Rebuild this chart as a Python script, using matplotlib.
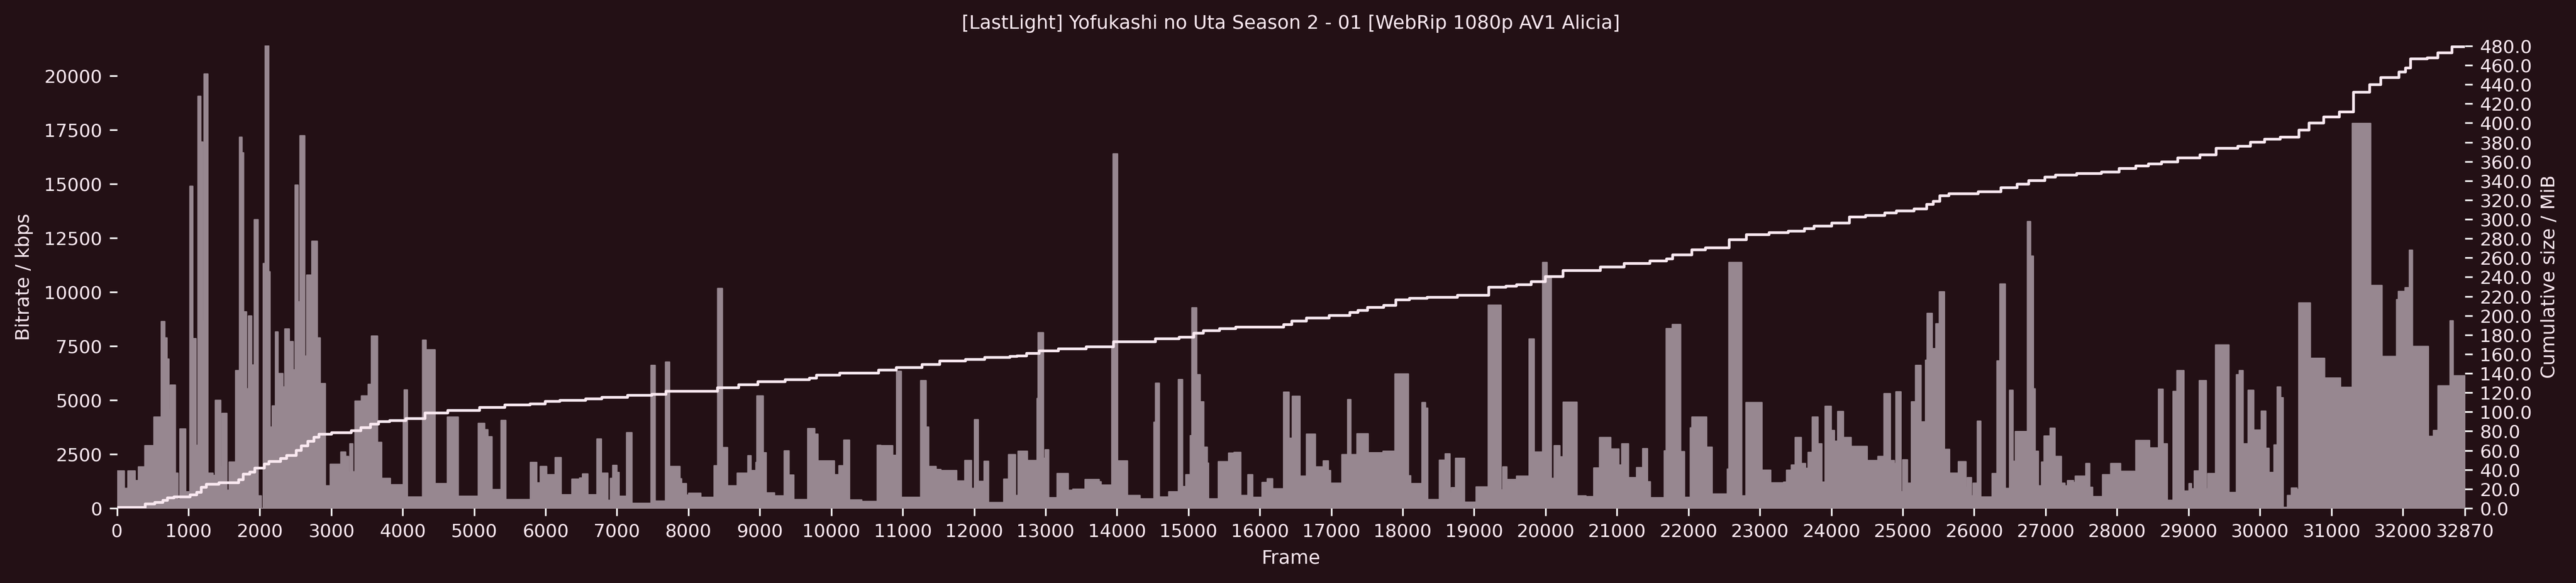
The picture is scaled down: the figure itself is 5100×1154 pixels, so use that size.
"""Per-segment bitrate and cumulative size plot for one encode."""

import matplotlib

matplotlib.use("Agg")
import matplotlib.pyplot as plt

TITLE = "[LastLight] Yofukashi no Uta Season 2 - 01 [WebRip 1080p AV1 Alicia]"
BG = "#231015"
FG = "#f9e8f0"
BAR = "#978790"
LAST_FRAME = 32870

# segment start frame / bitrate in kbps
seg_frames = [
    0, 100, 150, 252, 297, 387, 514, 617, 667, 698, 725, 743, 815, 851, 878, 959, 1018, 1059, 1104, 1131,
    1171, 1198, 1216, 1270, 1342, 1374, 1450, 1468, 1536, 1568, 1658, 1712, 1748, 1770, 1811, 1838, 1883, 1919, 1973, 2018,
    2045, 2072, 2122, 2140, 2171, 2216, 2252, 2266, 2320, 2347, 2410, 2464, 2491, 2532, 2559, 2626, 2653, 2725, 2802, 2843,
    2915, 2982, 3131, 3199, 3239, 3257, 3298, 3329, 3419, 3514, 3559, 3645, 3703, 3825, 4005, 4018, 4063, 4275, 4325, 4451,
    4622, 4775, 5055, 5145, 5190, 5248, 5374, 5441, 5784, 5874, 5923, 6013, 6131, 6216, 6365, 6473, 6514, 6590, 6716, 6779,
    6869, 6905, 6937, 6996, 7027, 7131, 7207, 7473, 7532, 7676, 7734, 7879, 7902, 7969, 8000, 8171, 8356, 8406, 8473, 8545,
    8680, 8829, 8874, 8942, 8955, 9045, 9086, 9203, 9338, 9406, 9473, 9667, 9766, 9811, 10041, 10104, 10172, 10253, 10424, 10640,
    10690, 10857, 10870, 10911, 10978, 11248, 11325, 11361, 11465, 11532, 11753, 11866, 11960, 12001, 12055, 12068, 12136, 12199, 12411, 12478,
    12576, 12612, 12743, 12878, 12892, 12968, 12991, 13041, 13158, 13315, 13378, 13550, 13748, 13775, 13924, 13942, 14005, 14144, 14320, 14514,
    14536, 14590, 14721, 14856, 14915, 14960, 15023, 15045, 15113, 15162, 15212, 15261, 15279, 15415, 15559, 15627, 15635, 15730, 15829, 15897,
    16027, 16100, 16176, 16329, 16406, 16451, 16559, 16649, 16775, 16870, 16884, 16956, 16987, 17145, 17226, 17271, 17356, 17514, 17721, 17888,
    18077, 18109, 18266, 18316, 18347, 18510, 18591, 18659, 18677, 18736, 18862, 19024, 19194, 19374, 19397, 19455, 19590, 19766, 19838, 19955,
    20018, 20077, 20117, 20198, 20243, 20437, 20563, 20671, 20752, 20910, 21023, 21063, 21158, 21270, 21342, 21356, 21424, 21464, 21658, 21685,
    21770, 21888, 21942, 22023, 22045, 22252, 22329, 22541, 22563, 22743, 22802, 23027, 23149, 23329, 23370, 23437, 23491, 23577, 23636, 23672,
    23730, 23811, 23865, 23910, 23996, 24041, 24086, 24167, 24275, 24500, 24649, 24734, 24824, 24879, 24901, 24973, 24996, 25063, 25118, 25176,
    25253, 25266, 25316, 25338, 25410, 25460, 25509, 25581, 25653, 25775, 25883, 25901, 25959, 25982, 26041, 26090, 26248, 26316, 26357, 26433,
    26492, 26541, 26573, 26742, 26787, 26826, 26851, 26896, 26940, 26975, 27060, 27129, 27218, 27268, 27303, 27387, 27412, 27551, 27560, 27615,
    27655, 27794, 27908, 28047, 28245, 28260, 28453, 28577, 28642, 28701, 28781, 28835, 28934, 29004, 29039, 29078, 29148, 29247, 29267, 29376,
    29564, 29668, 29708, 29762, 29832, 29911, 30016, 30080, 30125, 30194, 30239, 30288, 30323, 30382, 30437, 30516, 30541, 30704, 30903, 31126,
    31290, 31548, 31707, 31910, 31935, 32029, 32089, 32133, 32356, 32426, 32490, 32659, 32703,
]
seg_kbps = [
    1737, 930, 1737, 1290, 1926, 2907, 4230, 8650, 7895, 6914, 4558, 5710, 1634, 413, 3680, 774, 14912, 7860, 2924, 19075,
    16960, 8670, 20107, 1634, 1530, 5005, 1926, 4403, 843, 2150, 6381, 17180, 16460, 9100, 5540, 8910, 6640, 13364, 585, 0,
    11335, 21414, 10956, 3767, 4747, 8170, 1410, 6244, 5624, 8308, 7723, 6416, 14964, 9563, 17250, 7052, 10800, 12367, 7895, 5780,
    1050, 2047, 2614, 2408, 1670, 2993, 1700, 4970, 5210, 5745, 7980, 3060, 1393, 1100, 4025, 5487, 533, 7790, 7345, 1152,
    4230, 568, 3940, 3646, 3320, 877, 4076, 413, 2133, 1187, 1944, 1565, 2356, 636, 1359, 1410, 1600, 636, 3216, 1634,
    378, 1393, 1995, 1668, 568, 3509, 240, 6622, 344, 6777, 1944, 1376, 1152, 620, 705, 516, 1978, 10182, 2820, 1050,
    1634, 2442, 1754, 2133, 5210, 2580, 722, 585, 2666, 1548, 413, 3698, 3440, 2202, 1565, 1978, 3165, 396, 327, 2924,
    2907, 1926, 2460, 6347, 516, 5917, 3767, 1944, 1806, 1754, 1273, 2220, 929, 4110, 1135, 1256, 2184, 275, 1359, 2494,
    602, 2649, 2220, 5091, 8136, 2322, 2718, 499, 1617, 843, 894, 1342, 1238, 1084, 7396, 16409, 2202, 602, 447, 3990,
    5796, 533, 774, 5968, 1015, 1565, 3371, 9288, 6192, 4936, 2838, 2098, 447, 2167, 2563, 722, 2597, 602, 1565, 516,
    1204, 1376, 912, 5384, 3250, 5194, 1496, 3440, 1926, 1600, 2202, 1754, 1170, 2494, 5040, 2494, 3457, 2580, 2649, 6226,
    1514, 1152, 4902, 4644, 413, 2236, 2528, 722, 963, 2322, 292, 998, 9408, 860, 1926, 1342, 1496, 7843, 2614, 11386,
    10750, 1393, 2907, 2391, 4919, 585, 550, 1875, 3285, 2752, 2012, 2993, 1428, 1892, 1410, 2769, 1238, 499, 2666, 8325,
    8514, 2632, 516, 3732, 4231, 2838, 671, 1823, 11386, 585, 4902, 1772, 1187, 1221, 1772, 2012, 3285, 2081, 1858, 2597,
    4231, 2993, 1221, 4730, 3612, 3113, 4489, 3285, 2872, 2219, 2408, 5315, 2219, 2081, 5400, 774, 2253, 1170, 4936, 6622,
    2270, 4008, 6863, 9030, 7396, 8548, 10028, 2735, 1634, 2167, 980, 1428, 585, 1170, 4042, 533, 1617, 6828, 10389, 929,
    5470, 2184, 3560, 13278, 11679, 5538, 2649, 1049, 2150, 3354, 3715, 2408, 1170, 1049, 1290, 1204, 1496, 843, 2081, 980,
    550, 1565, 2081, 1720, 464, 3148, 2804, 5521, 2993, 378, 5418, 6381, 808, 1152, 912, 1737, 5917, 912, 1617, 7568,
    740, 6192, 6381, 2993, 5470, 3629, 4506, 2786, 1668, 2941, 5624, 5126, 52, 602, 946, 877, 9512, 6949, 6037, 5607,
    17820, 10320, 7035, 9666, 10045, 10217, 11954, 7499, 3337, 3612, 5676, 8686, 6140,
]

# cumulative size line, frame / MiB
size_frames = [
    0, 392, 527, 640, 707, 797, 1022, 1113, 1180, 1248, 1428, 1698, 1766, 1856, 1924, 2059, 2126, 2284, 2374, 2509,
    2577, 2667, 2757, 2825, 3005, 3275, 3410, 3545, 3658, 3816, 4041, 4311, 4627, 5077, 5428, 5784, 5995, 6198, 6559, 6784,
    7144, 7482, 7685, 8406, 8698, 8968, 9352, 9690, 9793, 10117, 10658, 10906, 11266, 11514, 11874, 12145, 12496, 12595, 12730, 12910,
    13180, 13563, 13946, 14532, 14870, 15072, 15207, 15433, 15658, 16334, 16447, 16649, 16965, 17257, 17370, 17505, 17730, 17897, 18090, 18338,
    18766, 19203, 19442, 19590, 19793, 19995, 20243, 20761, 21099, 21460, 21694, 21775, 22045, 22234, 22567, 22811, 23126, 23397, 23621, 23757,
    24005, 24253, 24478, 24748, 24906, 25154, 25334, 25424, 25514, 25640, 26055, 26370, 26595, 26762, 26985, 27134, 27431, 27779, 28027, 28260,
    28433, 28622, 28845, 29158, 29381, 29688, 29862, 30060, 30283, 30546, 30685, 30888, 31112, 31305, 31533, 31687, 31945, 32034, 32108, 32341,
    32490, 32689, 32870,
]
size_mib = [
    1, 4.6, 6.5, 8.5, 11, 12.3, 14.3, 17, 22, 25, 26.6, 30, 35.5, 38, 42, 46, 49, 52, 55, 60.5,
    65, 70, 74, 77, 78.7, 80.6, 83.7, 87.6, 90, 91.4, 93.4, 99, 102, 105, 107.6, 108.4, 111, 112, 114, 115.4,
    117.3, 118.8, 121.5, 125.4, 128.5, 131.6, 133.9, 135.4, 138.5, 140.8, 143.9, 146.6, 149.7, 153.2, 154.7, 156.6, 157.8, 158.6, 160.9, 163.6,
    165.5, 167.8, 173.2, 176.3, 177.9, 182, 184.8, 186.7, 188.3, 191, 194.8, 197.5, 200.2, 203.3, 205.6, 208.7, 211, 216.4, 218, 219.1,
    221.5, 229.6, 231, 232.6, 235.3, 240.7, 246.9, 250.8, 254.3, 257, 259.3, 263.5, 268.5, 270.5, 279.3, 284.3, 286.6, 288.2, 290.5, 293.2,
    296.3, 302.5, 304, 306.7, 309, 311.3, 315.6, 319, 324.5, 326.8, 329, 333.3, 336.8, 340.7, 344, 346, 348, 349.5, 353, 355.7,
    358, 359.6, 363.8, 367, 374.2, 376, 380.4, 383.5, 385.8, 393, 400, 406.6, 412, 432.5, 440.2, 447.5, 453.3, 457.2, 466.8, 468,
    473.4, 479.6, 480,
]

x_ticks = list(range(0, 33000, 1000)) + [LAST_FRAME]
size_ticks = list(range(0, 500, 20))


def main():
    plt.rcParams.update({"font.family": "DejaVu Sans", "font.size": 8.7})
    fig, ax = plt.subplots(figsize=(17, 1154 / 300), dpi=300, facecolor=BG)
    fig.subplots_adjust(left=231.5 / 5100, right=4880 / 5100, bottom=1 - 1006 / 1154, top=1 - 90 / 1154)
    ax.set_facecolor(BG)

    ax.fill_between(seg_frames + [LAST_FRAME], seg_kbps + [seg_kbps[-1]], step="post",
                    color=BAR, linewidth=0.6, joinstyle="round")
    ax.set_xlim(0, LAST_FRAME)
    ax.set_ylim(0, max(seg_kbps))
    ax.set_xticks(x_ticks)
    ax.set_xlabel("Frame", color=FG, fontsize=9, labelpad=4.5)
    ax.set_ylabel("Bitrate / kbps", color=FG, fontsize=9, labelpad=5)

    ax2 = ax.twinx()
    ax2.step(size_frames, size_mib, where="post", color=FG, linewidth=1.3)
    ax2.set_ylim(0, 480.5)
    ax2.set_yticks(size_ticks)
    ax2.set_yticklabels([f"{t:.1f}" for t in size_ticks])
    ax2.set_ylabel("Cumulative size / MiB", color=FG, fontsize=9)

    for a in (ax, ax2):
        a.tick_params(color="white", labelcolor=FG)
        for spine in a.spines.values():
            spine.set_visible(False)
    ax.set_title(TITLE, color=FG, fontsize=9, pad=8)

    fig.savefig("out.png", dpi=300, facecolor=BG)


if __name__ == "__main__":
    main()
